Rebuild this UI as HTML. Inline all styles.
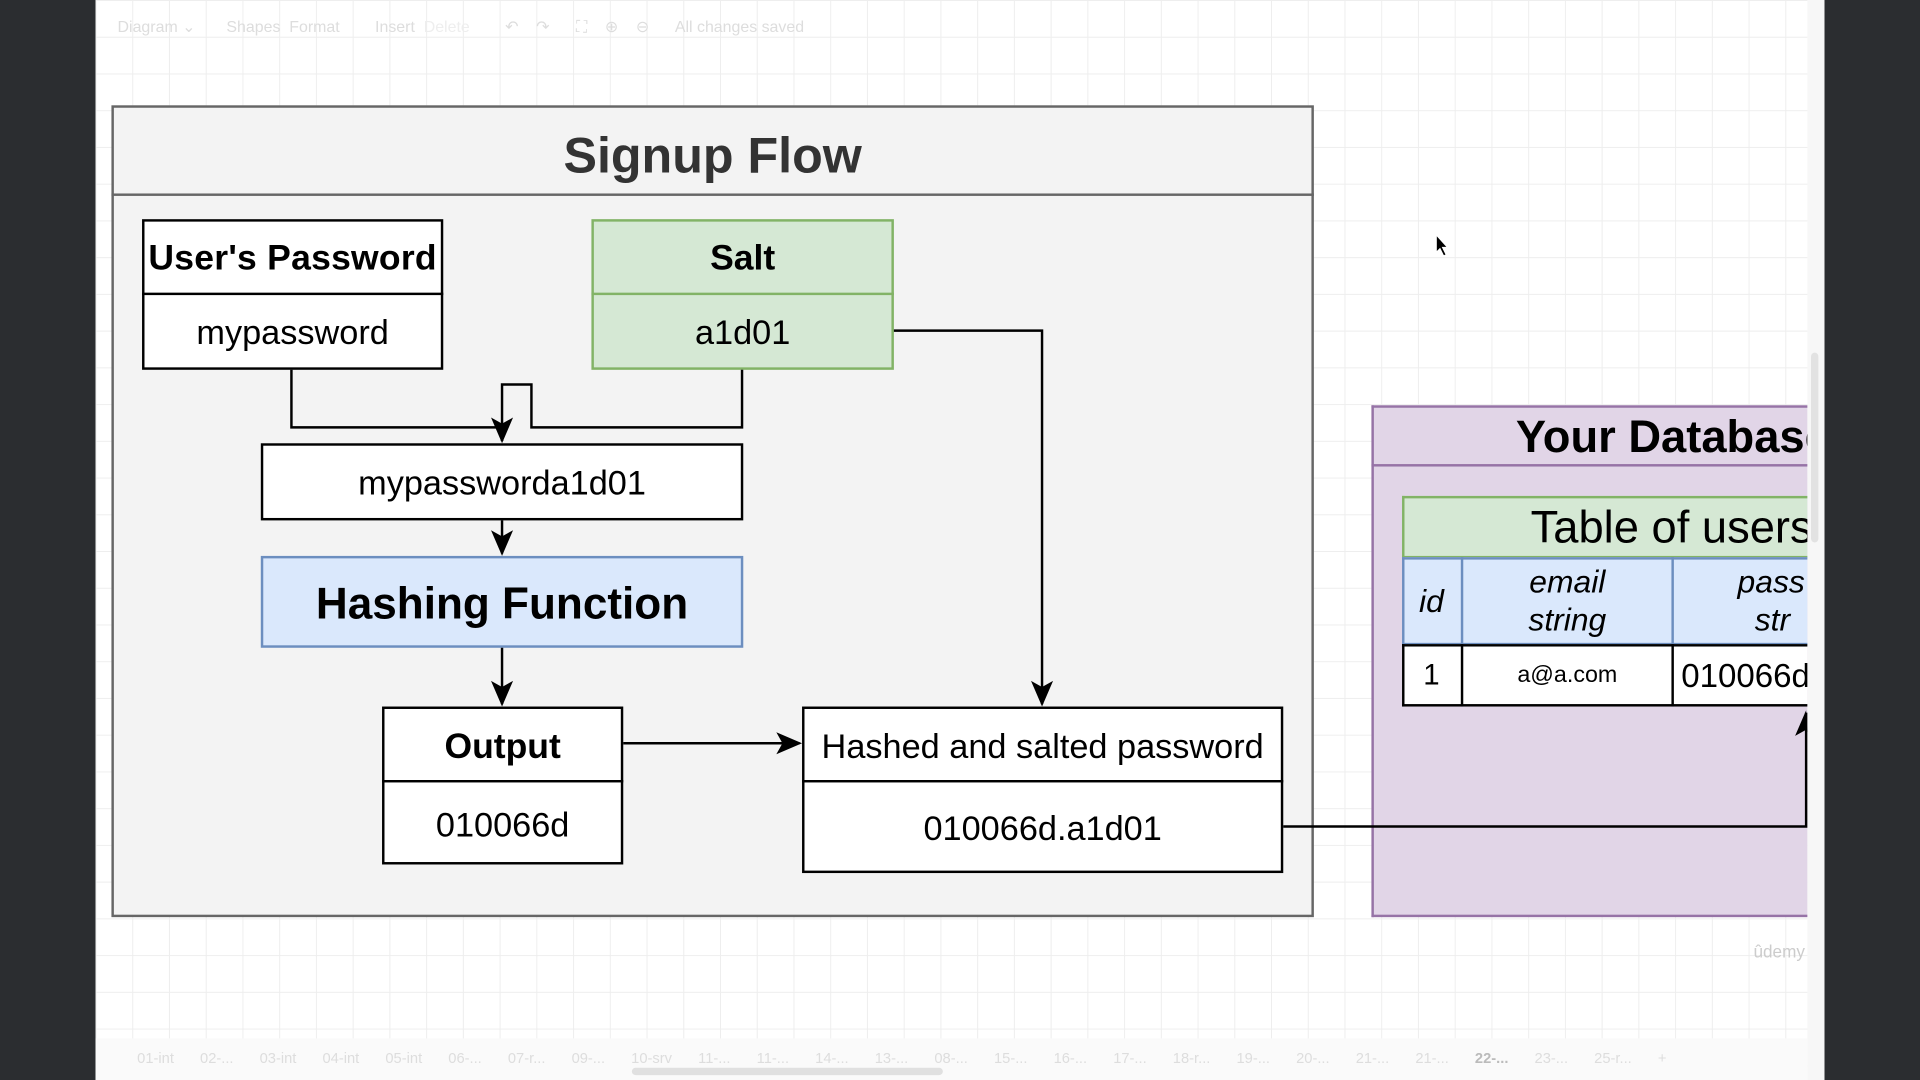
<!DOCTYPE html>
<html><head><meta charset="utf-8"><style>
html,body{margin:0;padding:0;width:1920px;height:1080px;overflow:hidden;background:#2b2d30;font-family:"Liberation Sans",Arial,sans-serif}
#w{position:absolute;left:0;top:0;width:1568px;height:882px;transform:scale(1.22449);transform-origin:0 0}
.a{position:absolute;box-sizing:border-box}
.c{display:flex;align-items:center;justify-content:center;text-align:center}
</style></head><body><div id="w">
<div class="a" style="left:78px;top:0;width:1412px;height:882px;background-color:#fff;background-image:linear-gradient(#eeeeee 1px,transparent 1px),linear-gradient(90deg,#eeeeee 1px,transparent 1px);background-size:30px 30px"></div>
<div class="a" style="left:1476px;top:0;width:14px;height:882px;background:#f7f7f7"></div>
<div class="a" style="left:1479px;top:288px;width:6px;height:155px;background:#e2e2e2;border-radius:3px"></div>
<div class="a" style="left:78px;top:848px;width:1398px;height:34px;background:#fafafa"></div>
<div class="a" style="left:516px;top:872px;width:254px;height:6px;background:#e0e0e0;border-radius:3px"></div>
<div class="a" style="left:112px;top:857px;font-size:12px;color:#ddd;white-space:nowrap;word-spacing:18px">01-int 02-... 03-int 04-int 05-int 06-... 07-r... 09-... 10-srv 11-... 11-... 14-... 13-... 08-... 15-... 16-... 17-... 18-r... 19-... 20-... 21-... 21-... <b style="color:#bbb">22-...</b> 23-... 25-r... +</div>
<div class="a" style="left:96px;top:14px;font-size:13px;color:#ddd;white-space:nowrap">Diagram ⌄ &nbsp;&nbsp;&nbsp;&nbsp;&nbsp; Shapes &nbsp;Format &nbsp;&nbsp;&nbsp;&nbsp;&nbsp;&nbsp; Insert &nbsp;<span style="color:#eee">Delete</span> &nbsp;&nbsp;&nbsp;&nbsp;&nbsp;&nbsp; ↶ &nbsp;&nbsp; ↷ &nbsp;&nbsp;&nbsp;&nbsp; ⛶ &nbsp;&nbsp; ⊕ &nbsp;&nbsp; ⊖ &nbsp;&nbsp;&nbsp;&nbsp; All changes saved</div>
<div class="a" style="left:1432px;top:769px;font-size:14px;color:#ccc">ûdemy</div>

<!-- Database -->
<div class="a" style="left:1120px;top:331px;width:356px;height:418px;background:#e1d5e7;border:2px solid #9673a6;border-right:none"></div>
<div class="a" style="left:1120px;top:379px;width:356px;height:2px;background:#9673a6"></div>
<div class="a" style="left:1238px;top:336px;font-size:37px;font-weight:bold;color:#000;white-space:nowrap;width:238px;overflow:hidden">Your Database</div>
<div class="a" style="left:1145px;top:405px;width:331px;height:51px;background:#d5e8d4;border:2px solid #82b366;border-right:none"></div>
<div class="a" style="left:1250px;top:410px;width:226px;overflow:hidden;font-size:37px;white-space:nowrap">Table of users</div>
<div class="a" style="left:1145px;top:455px;width:331px;height:72px;background:#dae8fc;border:2px solid #6c8ebf;border-right:none"></div>
<div class="a" style="left:1193px;top:455px;width:2px;height:72px;background:#6c8ebf"></div>
<div class="a" style="left:1365px;top:455px;width:2px;height:72px;background:#6c8ebf"></div>
<div class="a c" style="left:1145px;top:455px;width:48px;height:72px;font-size:26px;font-style:italic">id</div>
<div class="a c" style="left:1195px;top:455px;width:170px;height:72px;font-size:26px;font-style:italic;line-height:31px">email<br>string</div>
<div class="a" style="left:1367px;top:455px;width:109px;height:72px;overflow:hidden;font-size:26px;font-style:italic;line-height:31px;padding-top:5px;padding-left:52px;white-space:nowrap">pass<br><span style="padding-left:14px">str</span></div>
<div class="a" style="left:1145px;top:526px;width:331px;height:51px;background:#fff;border:2px solid #000;border-right:none"></div>
<div class="a" style="left:1193px;top:526px;width:2px;height:51px;background:#000"></div>
<div class="a" style="left:1365px;top:526px;width:2px;height:51px;background:#000"></div>
<div class="a c" style="left:1145px;top:526px;width:48px;height:51px;font-size:24px">1</div>
<div class="a c" style="left:1195px;top:526px;width:170px;height:51px;font-size:19px">a@a.com</div>
<div class="a" style="left:1373px;top:537px;width:103px;overflow:hidden;font-size:27px;white-space:nowrap">010066d</div>

<!-- Signup -->
<div class="a" style="left:91px;top:86px;width:982px;height:663px;background:#f3f3f3;border:2px solid #666"></div>
<div class="a" style="left:91px;top:158px;width:982px;height:2px;background:#666"></div>
<div class="a c" style="left:91px;top:92px;width:982px;height:70px;font-size:41px;font-weight:bold;color:#333">Signup Flow</div>

<div class="a" style="left:116px;top:179px;width:246px;height:123px;background:#fff;border:2px solid #000"></div>
<div class="a" style="left:116px;top:239px;width:246px;height:2px;background:#000"></div>
<div class="a c" style="left:116px;top:182px;width:246px;height:58px;font-size:29px;font-weight:bold;letter-spacing:0.2px">User's Password</div>
<div class="a c" style="left:116px;top:242px;width:246px;height:60px;font-size:28px">mypassword</div>

<div class="a" style="left:483px;top:179px;width:247px;height:123px;background:#d5e8d4;border:2px solid #82b366"></div>
<div class="a" style="left:483px;top:239px;width:247px;height:2px;background:#82b366"></div>
<div class="a c" style="left:483px;top:182px;width:247px;height:58px;font-size:29px;font-weight:bold">Salt</div>
<div class="a c" style="left:483px;top:242px;width:247px;height:60px;font-size:28px">a1d01</div>

<div class="a c" style="left:213px;top:362px;width:394px;height:63px;background:#fff;border:2px solid #000;font-size:28px;padding-top:3px">mypassworda1d01</div>
<div class="a c" style="left:213px;top:454px;width:394px;height:75px;background:#dae8fc;border:2px solid #6c8ebf;font-size:36px;font-weight:bold;padding-top:2px">Hashing Function</div>

<div class="a" style="left:312px;top:577px;width:197px;height:129px;background:#fff;border:2px solid #000"></div>
<div class="a" style="left:312px;top:637px;width:197px;height:2px;background:#000"></div>
<div class="a c" style="left:312px;top:581px;width:197px;height:58px;font-size:29px;font-weight:bold">Output</div>
<div class="a c" style="left:312px;top:641px;width:197px;height:65px;font-size:28px">010066d</div>

<div class="a" style="left:655px;top:577px;width:393px;height:136px;background:#fff;border:2px solid #000"></div>
<div class="a" style="left:655px;top:637px;width:393px;height:2px;background:#000"></div>
<div class="a c" style="left:655px;top:581px;width:393px;height:58px;font-size:28px">Hashed and salted password</div>
<div class="a c" style="left:655px;top:641px;width:393px;height:72px;font-size:28px">010066d.a1d01</div>

<svg class="a" style="left:0;top:0" width="1568" height="882">
<g stroke="#000" stroke-width="2" fill="none">
<path d="M238,302 V349 H410 V360"/>
<path d="M606,302 V349 H434 V314 H410 V360"/>
<path d="M730,270 H851 V575"/>
<path d="M410,425 V452"/>
<path d="M410,529 V575"/>
<path d="M509,607 H653"/>
<path d="M1048,675 H1475 V582"/>
</g>
<g fill="#000">
<path d="M410,362 L401,341 L410,346 L419,341 z"/>
<path d="M851,577 L842,556 L851,561 L860,556 z"/>
<path d="M410,454 L401,433 L410,438 L419,433 z"/>
<path d="M410,577 L401,556 L410,561 L419,556 z"/>
<path d="M655,607 L634,598 L639,607 L634,616 z"/>
<path d="M1475,580 L1466,601 L1475,596 L1476,598 z"/>
</g>
<path d="M1173,192 v14 l3,-3 l3,6 l2,-1 l-3,-6 h4 z" fill="#000" stroke="#fff" stroke-width="0.8"/>
</svg>
</div></body></html>
